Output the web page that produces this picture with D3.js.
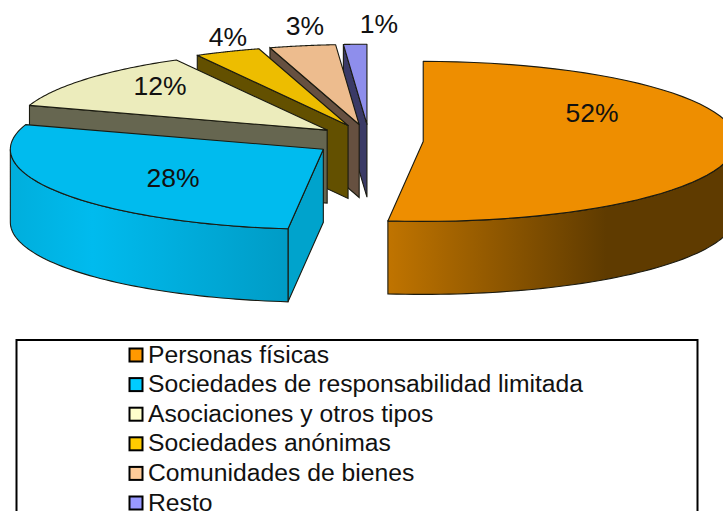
<!DOCTYPE html>
<html>
<head>
<meta charset="utf-8">
<script src="https://cdn.jsdelivr.net/npm/d3@7/dist/d3.min.js"></script>
<style>
html,body{margin:0;padding:0;background:#fff}
svg{display:block}
text{font-family:"Liberation Sans",Arial,sans-serif;fill:#111}
</style>
</head>
<body>
<svg id="chart" width="723" height="511"></svg>
<script>
// ---- data ----
const categories = ["Personas físicas","Sociedades de responsabilidad limitada","Asociaciones y otros tipos","Sociedades anónimas","Comunidades de bienes","Resto"];
const values = [51.8, 28.2, 12, 3.4, 3.4, 1.2];
const valueLabels = ["52%","28%","12%","4%","3%","1%"];

// ---- styles ----
const topColors  = ["#EE8E00","#00BBEE","#ECECBC","#EDBD00","#EDBC8E","#8E8EEC"];
const wallColors = ["#6A4000","#00A3CC","#666650","#635000","#665040","#3A3A66"];
const swatchColors = ["#FF9900","#00CCFF","#FFFFCC","#FFCC00","#FFCC99","#9999FF"];

// ---- layout ----
const labelPos = [[592,122],[173,187],[160,95],[228,46],[305,35],[379,33]];
const cx = 369, cy = 140.5, rx = 313, ry = 80, depth = 73, explodeX = 54.3, explodeY = 16.3;
const legendBox = {x:16.5, y:340, w:681, h:200};
const legendX = 129, legendTop = 355, legendStep = 29.6;

const svg = d3.select("#chart");
const defs = svg.append("defs");
function grad(id, stops, x1, x2){
  const g = defs.append("linearGradient").attr("id",id).attr("gradientUnits","userSpaceOnUse")
    .attr("x1",x1).attr("x2",x2).attr("y1",0).attr("y2",0);
  stops.forEach(s=>g.append("stop").attr("offset",s[0]).attr("stop-color",s[1]));
}
grad("sideOrange",[[0,"#C07400"],[0.62,"#5F3B00"],[1,"#5F3B00"]],388,740);
grad("sideBlue",[[0,"#00AEDC"],[0.3,"#00BBEE"],[1,"#009CC6"]],10,286);

const arcs = d3.pie().sort(null).value(d=>d).startAngle(0).endAngle(2*Math.PI)(values);

function centre(a){
  const m = (a.startAngle+a.endAngle)/2;
  return [cx+explodeX*Math.sin(m), cy-explodeY*Math.cos(m)];
}
function rim(c,ang,dy=0){ return [c[0]+rx*Math.sin(ang), c[1]-ry*Math.cos(ang)+dy]; }
function rimPts(c,a0,a1,dy=0){
  return d3.range(0,61).map(i=>rim(c,a0+(a1-a0)*i/60,dy));
}
const line = d3.line();
const order = [5,4,3,2,1,0];
const stroke = "#1a1a10";

order.forEach(i=>{
  const a = arcs[i], c = centre(a), g = svg.append("g");
  const c2 = [c[0],c[1]+depth];
  // straight cut wall that faces the viewer
  if(i>=1){
    const p = rim(c,a.startAngle), q = [p[0],p[1]+depth];
    g.append("path").attr("d",line([c,p,q,c2])+"Z")
      .attr("fill",wallColors[i]).attr("stroke",stroke).attr("stroke-width",1.1);
  }
  // outer curved side
  const s0 = Math.max(a.startAngle,Math.PI/2), s1 = Math.min(a.endAngle,3*Math.PI/2);
  if(s1>s0){
    const up = rimPts(c,s0,s1), down = rimPts(c,s1,s0,depth);
    g.append("path").attr("d",line(up.concat(down))+"Z")
      .attr("fill", i===0?"url(#sideOrange)":"url(#sideBlue)")
      .attr("stroke",stroke).attr("stroke-width",1.1);
  }
  // top face
  g.append("path").attr("d",line([c].concat(rimPts(c,a.startAngle,a.endAngle)))+"Z")
    .attr("fill",topColors[i]).attr("stroke",stroke).attr("stroke-width",1.1).attr("stroke-linejoin","round");
});

svg.append("g").selectAll("text").data(valueLabels).join("text")
  .attr("x",(d,i)=>labelPos[i][0]).attr("y",(d,i)=>labelPos[i][1])
  .attr("text-anchor","middle").attr("font-size",26.5).text(d=>d);

// ---- legend ----
svg.append("rect").attr("x",legendBox.x).attr("y",legendBox.y).attr("width",legendBox.w).attr("height",legendBox.h)
  .attr("fill","#fff").attr("stroke","#000").attr("stroke-width",2);
const y = d3.scalePoint().domain(categories).range([legendTop,legendTop+legendStep*(categories.length-1)]);
const row = svg.append("g").selectAll("g").data(categories).join("g")
  .attr("transform",d=>`translate(${legendX},${y(d)})`);
row.append("rect").attr("x",0.5).attr("y",-6.5).attr("width",13).attr("height",13)
  .attr("fill",(d,i)=>swatchColors[i]).attr("stroke","#000").attr("stroke-width",2);
row.append("text").attr("x",19).attr("y",7.5).attr("font-size",24.7).text(d=>d);
</script>
</body>
</html>
